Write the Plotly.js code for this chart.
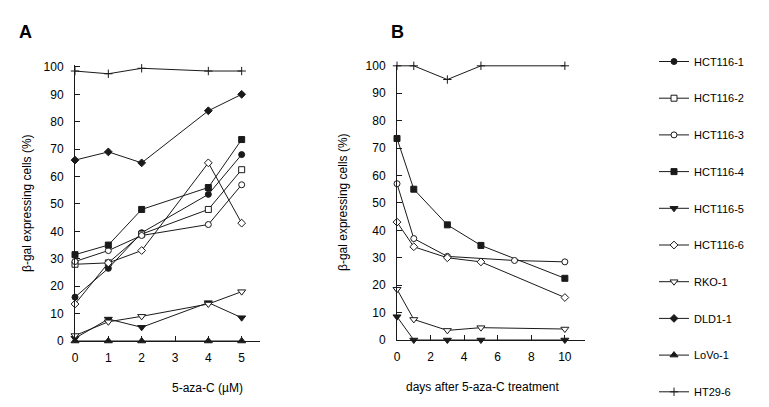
<!DOCTYPE html>
<html>
<head>
<meta charset="utf-8">
<script src="https://cdn.plot.ly/plotly-3.0.1.min.js"></script>
<style>
  body { margin: 0; background: #fff; }
  #chart { width: 769px; height: 407px; }
</style>
</head>
<body>
<div id="chart"></div>
<script>
// panel A: dose of 5-aza-C (uM)
var doseX = [0, 1, 2, 4, 5];
var hct1A = [16, 26.5, 39.5, 53.5, 68];
var hct2A = [28, 28.5, 39, 48, 62.5];
var hct3A = [29, 33, 38.5, 42.5, 57];
var hct4A = [31.5, 35, 48, 56, 73.5];
var hct5A = [1, 8, 5, 14, 8.5];
var hct6A = [13.5, 28.5, 33, 65, 43];
var rkoA = [2, 7, 9, 13.5, 18];
var dldA = [66, 69, 65, 84, 90];
var lovoA = [0, 0, 0, 0, 0];
var ht29A = [98.5, 97.5, 99.5, 98.5, 98.5];

// panel B: days after treatment
var daysX = [0, 1, 3, 5, 10];
var days3 = [0, 1, 3, 7, 10];
var ht29B = [100, 100, 95, 100, 100];
var hct4B = [73.5, 55, 42, 34.5, 22.5];
var hct3B = [57, 37, 30.5, 29, 28.5];
var hct6B = [43, 34, 30, 28.5, 15.5];
var rkoB = [18.5, 7.5, 3.5, 4.5, 4];
var hct5B = [8.5, 0, 0, 0, 0];

var W = 769, H = 407;
function px(x) { return x / W; }
function py(y) { return 1 - y / H; }

var ink = "#1a1a1a";
var font = "Liberation Sans, Arial, sans-serif";

var styles = {
  "HCT116-1": { symbol: "circle", color: ink, size: 6 },
  "HCT116-2": { symbol: "square", color: "white", size: 6 },
  "HCT116-3": { symbol: "circle", color: "white", size: 6 },
  "HCT116-4": { symbol: "square", color: ink, size: 6 },
  "HCT116-5": { symbol: "triangle-down", color: ink, size: 7 },
  "HCT116-6": { symbol: "diamond", color: "white", size: 6 },
  "RKO-1": { symbol: "triangle-down", color: "white", size: 7 },
  "DLD1-1": { symbol: "diamond", color: ink, size: 6 },
  "LoVo-1": { symbol: "triangle-up", color: ink, size: 7 },
  "HT29-6": { symbol: "cross-thin", color: ink, size: 6 }
};

function line(name, x, y, xa, ya, legend) {
  var s = styles[name];
  return {
    x: x, y: y, name: name, xaxis: xa, yaxis: ya,
    type: "scatter", mode: "lines+markers",
    legendgroup: name, showlegend: legend,
    cliponaxis: false,
    line: { color: ink, width: 1 },
    marker: { symbol: s.symbol, size: s.size, color: s.color,
              line: { color: ink, width: 1 } }
  };
}

var data = [
  line("HCT116-1", doseX, hct1A, "x", "y", true),
  line("HCT116-2", doseX, hct2A, "x", "y", true),
  line("HCT116-3", doseX, hct3A, "x", "y", true),
  line("HCT116-4", doseX, hct4A, "x", "y", true),
  line("HCT116-5", doseX, hct5A, "x", "y", true),
  line("HCT116-6", doseX, hct6A, "x", "y", true),
  line("RKO-1", doseX, rkoA, "x", "y", true),
  line("DLD1-1", doseX, dldA, "x", "y", true),
  line("LoVo-1", doseX, lovoA, "x", "y", true),
  line("HT29-6", doseX, ht29A, "x", "y", true),
  line("HT29-6", daysX, ht29B, "x2", "y2", false),
  line("HCT116-4", daysX, hct4B, "x2", "y2", false),
  line("HCT116-3", days3, hct3B, "x2", "y2", false),
  line("HCT116-6", daysX, hct6B, "x2", "y2", false),
  line("RKO-1", daysX, rkoB, "x2", "y2", false),
  line("HCT116-5", daysX, hct5B, "x2", "y2", false)
];

function axisStyle(extra) {
  var a = {
    showgrid: false, zeroline: false,
    showline: true, linecolor: ink, linewidth: 1,
    ticks: "inside", ticklen: 5, tickcolor: ink, tickwidth: 1,
    tickfont: { family: font, size: 12, color: "#000" },
    fixedrange: true
  };
  for (var k in extra) a[k] = extra[k];
  return a;
}

var layout = {
  width: W, height: H,
  margin: { l: 0, r: 0, t: 0, b: 0 },
  paper_bgcolor: "white", plot_bgcolor: "white",
  showlegend: true,
  legend: {
    x: px(654), y: py(62), xanchor: "left", yanchor: "top",
    font: { family: font, size: 11, color: "#000" },
    tracegroupgap: 17.7, itemwidth: 30
  },
  xaxis: axisStyle({ domain: [px(75), px(260)], range: [0, 5.55],
    anchor: "y", tickvals: [0, 1, 2, 3, 4, 5], ticklabelstandoff: 6 }),
  yaxis: axisStyle({ domain: [py(341), py(65)], range: [0, 100.7],
    anchor: "x", dtick: 10, ticklabelstandoff: 8 }),
  xaxis2: axisStyle({ domain: [px(397), px(585)], range: [0, 11.2],
    anchor: "y2", dtick: 2, ticklabelstandoff: 6 }),
  yaxis2: axisStyle({ domain: [py(340), py(65)], range: [0, 100.3],
    anchor: "x2", dtick: 10, ticklabelstandoff: 8 }),
  annotations: [
    { text: "<b>A</b>", x: px(17), y: py(20), xref: "paper", yref: "paper",
      showarrow: false, font: { family: font, size: 18, color: "#000" } },
    { text: "<b>B</b>", x: px(397), y: py(20), xref: "paper", yref: "paper",
      showarrow: false, font: { family: font, size: 18, color: "#000" } },
    { text: "5-aza-C (µM)", x: px(170), y: py(397), xref: "paper", yref: "paper",
      showarrow: false, font: { family: font, size: 12, color: "#000" } },
    { text: "days after 5-aza-C treatment", x: px(482), y: py(396), xref: "paper", yref: "paper",
      showarrow: false, font: { family: font, size: 12, color: "#000" } },
    { text: "β-gal expressing cells (%)", x: px(18), y: py(203), xref: "paper", yref: "paper",
      showarrow: false, textangle: -90, font: { family: font, size: 12, color: "#000" } },
    { text: "β-gal expressing cells (%)", x: px(343), y: py(202), xref: "paper", yref: "paper",
      showarrow: false, textangle: -90, font: { family: font, size: 12, color: "#000" } }
  ]
};

Plotly.newPlot("chart", data, layout, { displayModeBar: false, staticPlot: true });
</script>
</body>
</html>
